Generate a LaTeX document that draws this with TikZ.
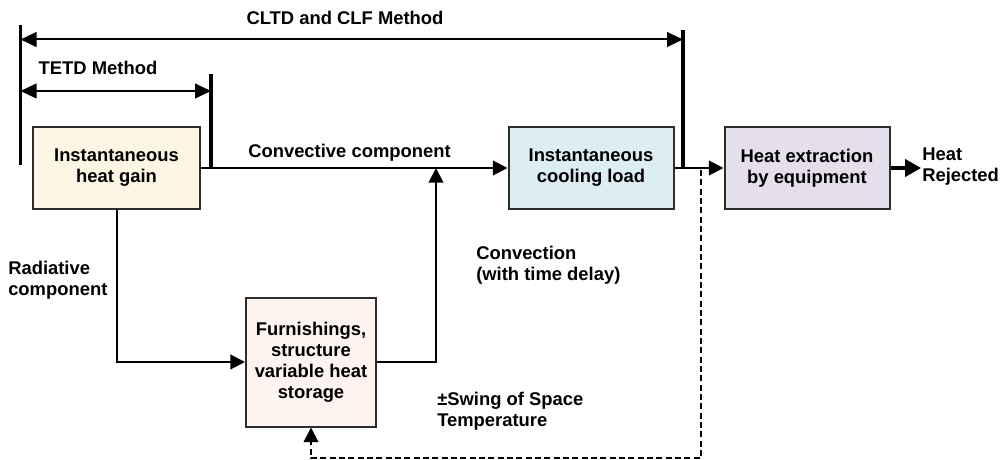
\documentclass[tikz,border=0pt]{standalone}
\usepackage{fontspec}
\setmainfont{Liberation Sans}
\usetikzlibrary{arrows.meta}

\definecolor{gainfill}{RGB}{253,246,228}
\definecolor{coolfill}{RGB}{220,237,243}
\definecolor{extrfill}{RGB}{229,223,235}
\definecolor{storefill}{RGB}{253,244,239}
\definecolor{edgegray}{RGB}{45,45,45}

\tikzset{
  blk/.style={draw=edgegray,line width=1.5pt,align=center,inner sep=0pt,
    font=\bfseries\fontsize{13.8}{15.8}\selectfont},
  lbl/.style={align=left,inner sep=0.75pt,font=\bfseries\fontsize{13.8}{15.8}\selectfont},
  flow/.style={line width=1.5pt,-{Triangle[length=11pt,width=11pt]}},
  dim/.style={line width=1.5pt,{Triangle[length=12pt,width=11pt]}-{Triangle[length=12pt,width=11pt]}},
  bar/.style={line width=2.4pt},
}

\begin{document}
\begin{tikzpicture}[x=0.75pt,y=0.75pt,yscale=-1,xscale=1]
\path (0,0) rectangle (1001,460);

% Blocks
\node [blk,fill=gainfill,minimum width=125.25pt,minimum height=61.5pt] (gain) at (116.5,168) {Instantaneous\\heat gain};
\node [blk,fill=coolfill,minimum width=123.75pt,minimum height=61.5pt] (cool) at (591,168) {Instantaneous\\cooling load};
\node [blk,fill=extrfill,minimum width=123.75pt,minimum height=61.5pt] (extr) at (807,168) {Heat extraction\\by equipment};
\node [blk,fill=storefill,minimum width=97.5pt,minimum height=96.75pt] (store) at (311,362) {Furnishings,\\structure\\variable heat\\storage};

% Bars of the method spans
\coordinate (lbarT) at (20.5,25);
\coordinate (lbarB) at (20.5,165);
\coordinate (tbarT) at (211,74);
\coordinate (tbarB) at (211,168);
\coordinate (cbarT) at (683,30);
\coordinate (cbarB) at (683,168);
\draw [bar] (lbarT) -- (lbarB);
\draw [bar] (tbarT) -- (tbarB);
\draw [bar] (cbarT) -- (cbarB);

% Span arrows
\coordinate (cltdL) at (20.5,39.5);
\coordinate (cltdR) at (683,39.5);
\coordinate (tetdL) at (20.5,91);
\coordinate (tetdR) at (211,91);
\draw [dim] (cltdL) -- (cltdR);
\draw [dim] (tetdL) -- (tetdR);

% Flow lines
\coordinate (jn) at (436,168);
\coordinate (rej) at (921,168);
\draw [flow] (gain.east) -- (cool.west);
\draw [flow] (gain.south) |- (store.west);
\draw [flow] (store.east) -| (jn);
\draw [flow] (cool.east) -- (extr.west);
\draw [line width=2.5pt,-{Triangle[length=12pt,width=13pt]}] (extr.east) -- (rej);

% Dashed feedback
\coordinate (swT) at (701,170);
\coordinate (swB) at (701,458);
\draw [line width=1.3pt,dash pattern={on 4.5pt off 2.5pt},-{Triangle[length=11pt,width=11pt]}] (swT) -- (swB) -| (store.south);

% Text Node
\node [lbl] (cltd) at (345,18) {CLTD and CLF Method};
% Text Node
\node [lbl] (tetd) at (98,68) {TETD Method};
% Text Node
\node [lbl,anchor=west] (convc) at (247,153) {Convective component};
% Text Node
\node [lbl,anchor=north west] (convd) at (475,245) {Convection\\(with time delay)};
% Text Node
\node [lbl,anchor=north west] (radc) at (7,260) {Radiative\\component};
% Text Node
\node [lbl,anchor=north west] (swing) at (436,391) {±Swing of Space\\Temperature};
% Text Node
\node [lbl,anchor=west] (heatrej) at (921,167) {Heat\\Rejected};

\end{tikzpicture}
\end{document}
